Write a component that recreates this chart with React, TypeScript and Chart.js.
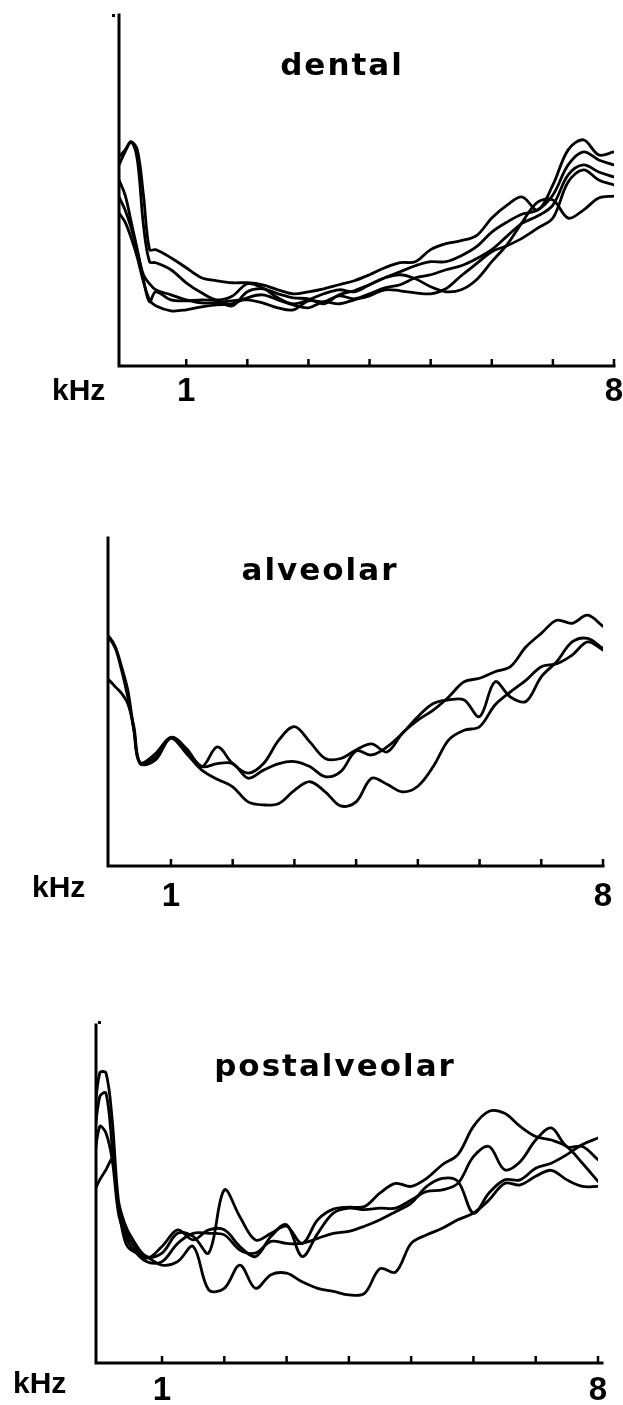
import { useEffect, useRef } from "react";
import { Chart, registerables } from "chart.js";

Chart.register(...registerables);

// Frequency grid shared by every spectrum (kHz)
const freqKHz = [
  -0.1, 0, 0.1, 0.2, 0.3, 0.4, 0.5, 0.75, 1, 1.25, 1.5, 1.75, 2, 2.25, 2.5, 2.75,
  3, 3.25, 3.5, 3.75, 4, 4.25, 4.5, 4.75, 5, 5.25, 5.5, 5.75, 6, 6.25, 6.5, 6.75,
  7, 7.25, 7.5, 7.75, 8,
];

// Tick marks along the frequency axis and the ones that carry a label
const tickKHz = [1, 2, 3, 4, 5, 6, 7, 8];
const labelledKHz = [1, 8];
const axisUnit = "kHz";

// Relative spectral level (dB) of the dental tokens
const dentalA = [40.1, 42.7, 44.7, 43.1, 34.1, 23.2, 23.2, 21.6, 19.6, 17.6, 17.0, 16.6, 16.6, 16.2, 15.2, 14.4, 14.8, 15.4, 16.2, 17.0, 18.2, 19.6, 20.6, 20.8, 23.2, 24.4, 25.0, 26.0, 29.5, 32.1, 33.7, 31.1, 36.1, 43.1, 45.1, 42.1, 42.7];
const dentalB = [41.7, 43.1, 44.7, 41.1, 28.1, 20.8, 20.6, 19.2, 16.6, 14.6, 13.2, 13.9, 16.4, 15.6, 13.6, 12.4, 13.2, 14.4, 15.2, 14.8, 16.2, 17.6, 18.8, 20.0, 20.8, 20.8, 22.0, 23.8, 26.7, 28.7, 30.3, 31.1, 34.1, 40.1, 42.7, 41.1, 40.1];
const dentalC = [33.7, 31.1, 27.5, 22.8, 18.2, 16.4, 15.2, 14.2, 13.2, 12.6, 12.6, 13.0, 13.2, 12.6, 11.6, 11.2, 13.0, 12.8, 14.0, 13.4, 14.4, 15.6, 16.2, 17.6, 18.2, 19.2, 20.0, 21.4, 23.2, 25.9, 28.5, 29.9, 32.1, 38.1, 40.1, 38.7, 37.7];
const dentalD = [30.5, 28.7, 25.5, 21.6, 16.8, 13.2, 12.0, 11.0, 11.2, 11.8, 12.2, 12.4, 13.6, 14.2, 13.2, 12.2, 11.6, 12.8, 12.4, 13.2, 14.0, 15.2, 15.0, 14.6, 14.4, 15.4, 18.0, 20.4, 22.8, 24.0, 25.5, 27.5, 29.5, 36.7, 39.1, 37.1, 36.1];
const dentalE = [37.1, 34.1, 28.7, 23.2, 17.2, 12.8, 14.8, 13.2, 13.0, 13.2, 13.0, 12.0, 14.8, 15.4, 14.4, 13.6, 13.4, 12.4, 14.2, 15.0, 16.2, 17.6, 18.2, 17.4, 15.8, 14.8, 15.2, 17.2, 20.8, 24.2, 28.7, 32.7, 33.1, 29.5, 31.1, 33.5, 33.9];

// Relative spectral level (dB) of the alveolar tokens
const alveolarA = [46.1, 45.4, 43.4, 39.5, 34.9, 26.9, 20.3, 21.0, 25.5, 23.3, 19.7, 23.6, 20.3, 18.4, 20.3, 25.0, 27.6, 24.6, 21.3, 21.3, 23.0, 24.2, 22.6, 26.3, 28.9, 30.9, 33.5, 36.5, 37.2, 38.5, 39.5, 43.4, 46.1, 48.7, 48.1, 49.7, 47.5];
const alveolarB = [46.1, 45.1, 43.1, 38.8, 33.5, 26.9, 20.3, 21.6, 25.3, 22.3, 19.0, 17.2, 15.7, 12.7, 12.1, 12.4, 15.0, 16.7, 14.7, 11.9, 12.7, 17.4, 16.2, 14.7, 15.8, 19.7, 25.0, 26.9, 27.6, 31.9, 34.5, 36.8, 39.5, 40.1, 41.8, 44.4, 42.8];
const alveolarC = [37.5, 36.8, 35.5, 34.2, 32.2, 27.6, 20.5, 22.3, 25.5, 23.0, 19.7, 20.3, 20.3, 17.4, 19.0, 20.3, 20.7, 19.7, 17.7, 18.7, 22.8, 22.0, 23.6, 26.3, 29.6, 32.2, 32.9, 32.9, 29.6, 36.5, 33.5, 32.6, 37.5, 40.5, 44.4, 45.1, 43.1];

// Relative spectral level (dB) of the postalveolar tokens
const postalveolarA = [46.9, 57.5, 57.5, 48.2, 32.3, 27.7, 25.1, 21.1, 21.8, 25.7, 25.1, 21.8, 34.3, 29.0, 24.4, 25.7, 27.1, 23.7, 28.4, 30.5, 30.9, 31.0, 33.7, 35.6, 35.0, 36.6, 39.3, 41.3, 46.9, 49.9, 49.5, 46.9, 44.9, 44.2, 42.9, 39.6, 36.0];
const postalveolarB = [42.9, 52.8, 53.5, 42.9, 31.0, 27.0, 24.1, 20.8, 23.1, 26.4, 24.4, 26.4, 26.4, 23.1, 21.1, 25.1, 27.4, 21.1, 25.7, 29.7, 30.7, 30.4, 30.7, 30.7, 32.3, 34.0, 34.3, 35.6, 40.9, 42.9, 38.3, 39.9, 44.2, 46.6, 42.9, 42.9, 40.3];
const postalveolarC = [39.0, 46.9, 45.6, 40.3, 29.7, 25.7, 23.1, 20.1, 20.1, 23.7, 25.7, 25.7, 25.4, 22.4, 21.8, 24.1, 23.7, 23.7, 24.7, 25.7, 26.1, 27.1, 28.4, 30.0, 31.7, 35.0, 36.6, 36.0, 29.7, 33.7, 36.3, 36.3, 38.6, 39.6, 41.3, 43.3, 44.6];
const postalveolarD = [33.7, 36.3, 38.3, 40.3, 31.0, 24.4, 22.4, 21.1, 19.4, 20.1, 23.1, 14.5, 14.8, 19.4, 14.8, 17.5, 17.8, 16.1, 14.8, 14.2, 13.5, 13.8, 18.7, 18.0, 23.7, 25.4, 26.7, 28.4, 29.7, 32.3, 35.6, 35.3, 37.0, 38.2, 36.3, 35.0, 35.0];

const LABEL_FONT = '"Liberation Sans", Arial, Helvetica, sans-serif';
const TITLE_FONT = '"DejaVu Sans", "Liberation Sans", sans-serif';
const INK = "#000";

type PanelSpec = {
  title: string;
  series: number[][];
  canvasTop: number;
  canvasHeight: number;
  plot: { left: number; right: number; top: number; bottom: number };
  xMin: number;
  levelMax: number;
  axisOverhang: number;
  titleX: number;
  titleBaseline: number;
  unitX: number;
  unitBaseline: number;
  labelBaseline: number;
  topDot: { dx: number; dy: number } | null;
};

const panels: PanelSpec[] = [
  {
    title: "dental",
    series: [dentalA, dentalB, dentalC, dentalD, dentalE],
    canvasTop: 0,
    canvasHeight: 420,
    plot: { left: 119, right: 614, top: 15, bottom: 366 },
    xMin: -0.1,
    levelMax: 70,
    axisOverhang: 0,
    titleX: 341,
    titleBaseline: 75,
    unitX: 52,
    unitBaseline: 400,
    labelBaseline: 401,
    topDot: { dx: -6, dy: 1 },
  },
  {
    title: "alveolar",
    series: [alveolarA, alveolarB, alveolarC],
    canvasTop: 480,
    canvasHeight: 460,
    plot: { left: 108, right: 603, top: 538, bottom: 866 },
    xMin: -0.02,
    levelMax: 65,
    axisOverhang: 0,
    titleX: 319,
    titleBaseline: 580,
    unitX: 32,
    unitBaseline: 897,
    labelBaseline: 906,
    topDot: null,
  },
  {
    title: "postalveolar",
    series: [postalveolarA, postalveolarB, postalveolarC, postalveolarD],
    canvasTop: 990,
    canvasHeight: 415,
    plot: { left: 96, right: 598, top: 1025, bottom: 1363 },
    xMin: -0.06,
    levelMax: 67,
    axisOverhang: 4,
    titleX: 334,
    titleBaseline: 1076,
    unitX: 13,
    unitBaseline: 1393,
    labelBaseline: 1400,
    topDot: { dx: 3, dy: -2 },
  },
];

function SpectrumPanel({ spec }: { spec: PanelSpec }) {
  const ref = useRef<HTMLCanvasElement | null>(null);

  useEffect(() => {
    const canvas = ref.current;
    if (!canvas) return;
    const { plot, canvasTop, canvasHeight } = spec;

    // Axes, ticks, labels and the panel heading drawn over the spectra
    const decor = {
      id: "panelDecor",
      afterDraw(chart: Chart) {
        const ctx = chart.ctx;
        const xs = chart.scales.x;
        const area = chart.chartArea;
        ctx.save();
        ctx.strokeStyle = INK;
        ctx.fillStyle = INK;
        ctx.lineCap = "square";

        ctx.lineWidth = 3;
        ctx.beginPath();
        ctx.moveTo(area.left, area.top);
        ctx.lineTo(area.left, area.bottom);
        ctx.lineTo(area.right + spec.axisOverhang, area.bottom);
        ctx.stroke();

        if (spec.topDot) {
          ctx.fillRect(area.left + spec.topDot.dx - 1, area.top + spec.topDot.dy - 2, 3, 3);
        }

        ctx.lineWidth = 2.5;
        ctx.lineCap = "butt";
        for (const v of tickKHz) {
          const px = xs.getPixelForValue(v);
          ctx.beginPath();
          ctx.moveTo(px, area.bottom);
          ctx.lineTo(px, area.bottom - 7);
          ctx.stroke();
        }

        ctx.textBaseline = "alphabetic";
        ctx.font = `bold 33px ${LABEL_FONT}`;
        ctx.textAlign = "center";
        for (const v of labelledKHz) {
          ctx.fillText(String(v), xs.getPixelForValue(v), spec.labelBaseline - canvasTop);
        }

        ctx.font = `bold 30px ${LABEL_FONT}`;
        ctx.textAlign = "left";
        ctx.fillText(axisUnit, spec.unitX, spec.unitBaseline - canvasTop);

        ctx.font = `bold 31px ${TITLE_FONT}`;
        (ctx as any).letterSpacing = "2px";
        ctx.textAlign = "center";
        ctx.fillText(spec.title, spec.titleX + 1, spec.titleBaseline - canvasTop);
        (ctx as any).letterSpacing = "0px";
        ctx.restore();
      },
    };

    const chart = new Chart(canvas, {
      type: "line",
      data: {
        datasets: spec.series.map((levels) => ({
          data: levels.map((y, i) => ({ x: freqKHz[i], y })),
          borderColor: INK,
          borderWidth: 2.8,
          pointRadius: 0,
          tension: 0.35,
          fill: false,
          borderCapStyle: "round" as const,
          borderJoinStyle: "round" as const,
        })),
      },
      options: {
        responsive: false,
        animation: false,
        devicePixelRatio: 1,
        events: [],
        layout: {
          padding: {
            left: plot.left,
            right: 623 - plot.right,
            top: plot.top - canvasTop,
            bottom: canvasTop + canvasHeight - plot.bottom,
          },
        },
        plugins: {
          legend: { display: false },
          tooltip: { enabled: false },
          title: { display: false },
        },
        scales: {
          x: { type: "linear", min: spec.xMin, max: 8, display: false },
          y: { type: "linear", min: 0, max: spec.levelMax, display: false },
        },
      },
      plugins: [decor],
    });
    return () => chart.destroy();
  }, [spec]);

  return (
    <canvas
      ref={ref}
      width={623}
      height={spec.canvasHeight}
      style={{
        position: "absolute",
        left: 0,
        top: spec.canvasTop,
        width: 623,
        height: spec.canvasHeight,
      }}
    />
  );
}

export default function App() {
  return (
    <div
      style={{
        position: "absolute",
        left: 0,
        top: 0,
        width: 623,
        height: 1405,
        background: "#fff",
        overflow: "hidden",
      }}
    >
      {panels.map((p) => (
        <SpectrumPanel key={p.title} spec={p} />
      ))}
    </div>
  );
}
